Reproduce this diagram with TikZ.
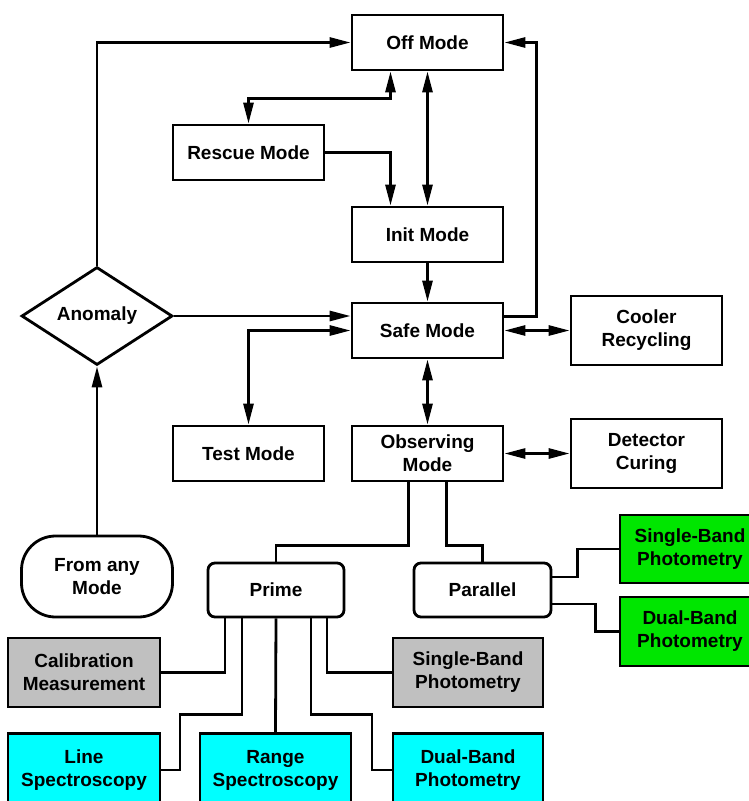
\documentclass[tikz,border=0pt]{standalone}
\usepackage{fontspec}
\setmainfont{Liberation Sans}
\usetikzlibrary{arrows.meta,shapes.geometric}

\definecolor{boxgreen}{RGB}{0,230,0}
\definecolor{boxcyan}{RGB}{0,255,255}
\definecolor{boxgrey}{RGB}{192,192,192}

\tikzset{
	mode/.style={draw, line width=2.8pt, minimum width=151pt, minimum height=55pt, align=center, inner sep=2pt, font=\fontsize{19}{23}\selectfont\bfseries},
	tallmode/.style={mode, minimum height=69pt},
	branch/.style={mode, rounded corners=7pt, minimum width=136pt, minimum height=54pt},
	wire/.style={line width=2.8pt},
}

\begin{document}
\begin{tikzpicture}[x=1pt, y=-1pt, >={Triangle[length=21pt,width=10pt]}]
		\useasboundingbox (0, 0) rectangle (748, 801);
		
		\node[mode] (off) at (427.5, 42.5) {Off Mode};
		\node[mode] (rescue) at (248.5, 152.5) {Rescue Mode};
		\node[mode] (init) at (427.5, 234.5) {Init Mode};
		\node[mode] (safe) at (427.5, 330.5) {Safe Mode};
		\node[tallmode] (cooler) at (646.5, 330.5) {Cooler\\Recycling};
		\node[mode, shape=diamond, minimum width=151pt, minimum height=80pt, inner sep=0pt] (anomaly) at (97, 316) {Anomaly};
		\node[mode] (test) at (248.5, 453.5) {Test Mode};
		\node[mode] (observing) at (427.5, 453.5) {Observing\\Mode};
		\node[tallmode] (detector) at (646.5, 453.5) {Detector\\Curing};
		\node[mode, rounded corners=34pt, minimum height=81pt] (fromany) at (97, 576.5) {From any\\Mode};
		
		\node[branch] (prime) at (276, 590) {Prime};
		\node[branch, minimum width=137pt] (parallel) at (482.5, 590) {Parallel};
		
		\node[tallmode, fill=boxgreen, minimum width=140pt, minimum height=68pt] (sbgreen) at (690, 549) {Single-Band\\Photometry};
		\node[tallmode, fill=boxgreen, minimum width=140pt] (dbgreen) at (690, 631.5) {Dual-Band\\Photometry};
		\node[tallmode, fill=boxgrey, minimum width=152pt] (calib) at (84, 672.5) {Calibration\\Measurement};
		\node[tallmode, fill=boxgrey, minimum width=150pt] (sbgrey) at (468, 672.5) {Single-Band\\Photometry};
		\node[tallmode, fill=boxcyan, minimum width=152pt, minimum height=73pt] (line) at (84, 770) {Line\\Spectroscopy};
		\node[tallmode, fill=boxcyan, minimum height=73pt] (range) at (275.5, 770) {Range\\Spectroscopy};
		\node[tallmode, fill=boxcyan, minimum width=150pt, minimum height=73pt] (dbcyan) at (468, 770) {Dual-Band\\Photometry};
		
		% mode transitions
		\draw[wire, ->] (anomaly.north) |- (off.west);
		\draw[wire, <->] ([xshift=-37pt]off.south) -- ++(0, 27) -| (rescue.north);
		\draw[wire, <->] (off.south) -- (init.north);
		\draw[wire, ->] (rescue.east) -| ([xshift=-37pt]init.north);
		\draw[wire, ->] (init.south) -- (safe.north);
		\draw[wire, ->] (anomaly.east) -- (anomaly.east -| safe.west);
		\draw[wire, ->] ([yshift=14pt]safe.east) -- ++(32, 0) |- (off.east);
		\draw[wire, <->] (safe.east) -- (cooler.west);
		\draw[wire, <->] (safe.west) -| (test.north);
		\draw[wire, <->] (safe.south) -- (observing.north);
		\draw[wire, <->] (observing.east) -- (detector.west);
		\draw[wire, ->] (fromany.north) -- (anomaly.south);
		
		% observing tree
		\draw[wire] ([xshift=-19pt]observing.south) -- ++(0, 63) -| (prime.north);
		\draw[wire] ([xshift=19pt]observing.south) -- ++(0, 63) -| (parallel.north);
		\draw[wire] ([yshift=13pt]parallel.east) -- ++(25, 0) |- (sbgreen.west);
		\draw[wire] ([yshift=-14pt]parallel.east) -- ++(43, 0) |- (dbgreen.west);
		\draw[wire] ([xshift=-51pt]prime.south) |- (calib.east);
		\draw[wire] ([xshift=-34pt]prime.south) -- ++(0, 96) -- ++(-62, 0) |- (line.east);
		\draw[wire] (prime.south) -- (range.north);
		\draw[wire] ([xshift=35pt]prime.south) -- ++(0, 96) -- ++(61, 0) |- (dbcyan.west);
		\draw[wire] ([xshift=51pt]prime.south) |- (sbgrey.west);
	\end{tikzpicture}
\end{document}
